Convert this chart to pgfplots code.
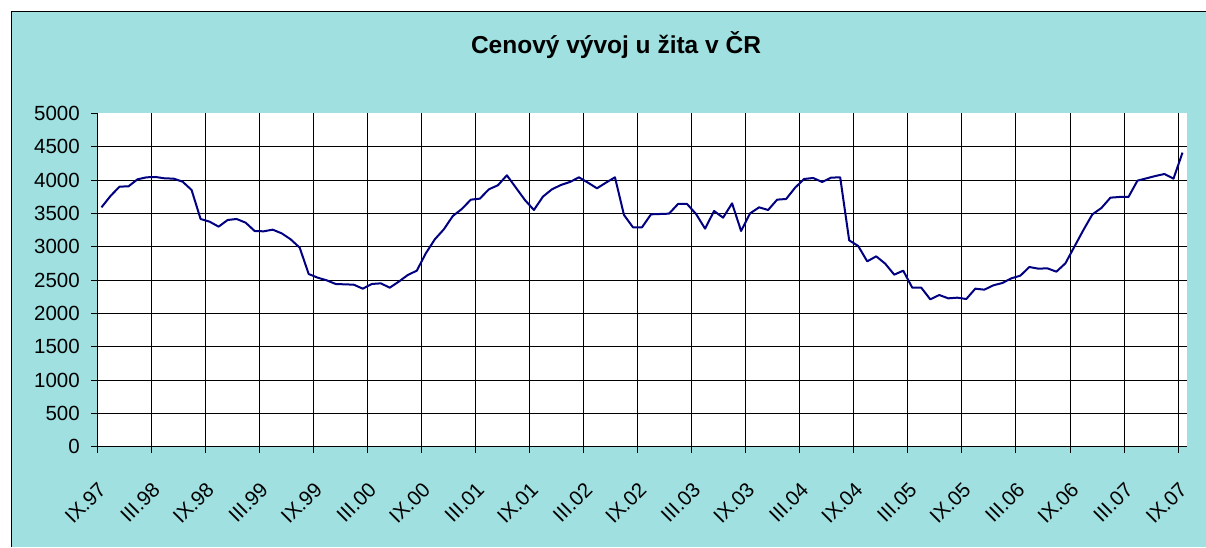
\documentclass[border=0pt]{standalone}
\usepackage{pgfplots}
\pgfplotsset{compat=1.18}
\usepackage{pgfplotstable}
\usepackage{fontspec}
\setmainfont{Liberation Sans}
\definecolor{bgc}{RGB}{160,224,224}
\definecolor{navyline}{RGB}{0,0,128}

\pgfplotstableread{
i v
0 3590
1 3760
2 3900
3 3905
4 4010
5 4040
6 4045
7 4025
8 4020
9 3975
10 3850
11 3415
12 3375
13 3300
14 3400
15 3415
16 3360
17 3235
18 3230
19 3255
20 3200
21 3110
22 2985
23 2590
24 2535
25 2495
26 2440
27 2435
28 2430
29 2370
30 2440
31 2450
32 2385
33 2475
34 2575
35 2640
36 2900
37 3110
38 3260
39 3460
40 3565
41 3705
42 3720
43 3860
44 3920
45 4070
46 3885
47 3700
48 3550
49 3750
50 3860
51 3925
52 3970
53 4040
54 3960
55 3875
56 3960
57 4040
58 3475
59 3290
60 3290
61 3485
62 3490
63 3495
64 3640
65 3640
66 3490
67 3270
68 3535
69 3435
70 3650
71 3235
72 3500
73 3590
74 3550
75 3705
76 3715
77 3885
78 4015
79 4030
80 3970
81 4035
82 4040
83 3095
84 3010
85 2780
86 2855
87 2745
88 2580
89 2640
90 2385
91 2385
92 2210
93 2275
94 2225
95 2235
96 2215
97 2370
98 2355
99 2420
100 2455
101 2525
102 2565
103 2695
104 2670
105 2675
106 2625
107 2750
108 3000
109 3250
110 3485
111 3580
112 3735
113 3745
114 3745
115 3990
116 4025
117 4060
118 4090
119 4020
120 4410
}\datatable

\begin{document}
\begin{tikzpicture}[x=1pt,y=1pt]
\path[use as bounding box] (0,0) rectangle (1206,547);
\fill[white] (0,0) rectangle (1206,547);
\fill[bgc] (11.7,0) rectangle (1206,535.3);
\draw[black, line width=1.2pt] (11.7,0) -- (11.7,535.3) -- (1206,535.3);
\node[anchor=base, inner sep=0pt, font=\fontsize{24.5}{29}\selectfont\bfseries] at (616,493.7) {Cenový vývoj u žita v ČR};
\begin{axis}[
  at={(97pt,100.3pt)}, anchor=south west,
  scale only axis, width=1090pt, height=333.4pt,
  xmin=-0.5, xmax=120.5, ymin=0, ymax=5000,
  axis lines*=left,
  axis line style={-, black, line width=1pt},
  axis background/.style={fill=white},
  xtick={-0.5,5.5,11.5,17.5,23.5,29.5,35.5,41.5,47.5,53.5,59.5,65.5,71.5,77.5,83.5,89.5,95.5,101.5,107.5,113.5,119.5},
  xticklabels={IX.97,III.98,IX.98,III.99,IX.99,III.00,IX.00,III.01,IX.01,III.02,IX.02,III.03,IX.03,III.04,IX.04,III.05,IX.05,III.06,IX.06,III.07,IX.07},
  ytick={0,500,...,4500},
  extra y ticks={5000},
  extra y tick style={grid=none},
  grid=major,
  grid style={black, line width=0.8pt},
  tick align=outside,
  major tick length=6pt,
  tick style={black, line width=0.8pt},
  scaled y ticks=false,
  /pgf/number format/1000 sep={},
  /pgf/number format/assume math mode=true,
  xticklabel style={rotate=45, anchor=north east, inner sep=0pt, font=\fontsize{20.5}{24}\selectfont},
  yticklabel style={inner sep=0pt, font=\fontsize{20.5}{24}\selectfont},
  xticklabel shift=28pt,
  yticklabel shift=11pt,
  clip=false,
]
\addplot[navyline, line width=2pt, mark=none, line join=round] table[x=i, y=v] {\datatable};
\end{axis}
\end{tikzpicture}
\end{document}
